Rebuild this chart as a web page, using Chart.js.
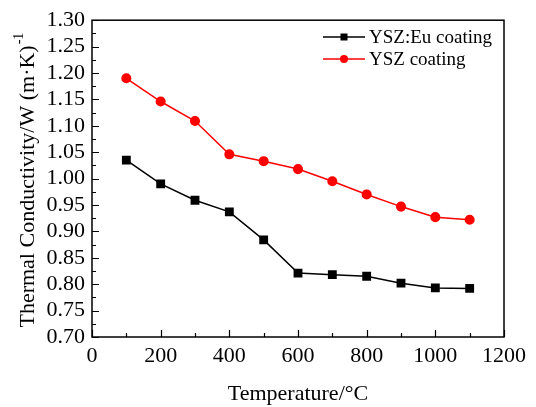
<!DOCTYPE html>
<html>
<head>
<meta charset="utf-8">
<script src="https://cdn.jsdelivr.net/npm/chart.js@4"></script>
<style>
  html, body { margin: 0; padding: 0; background: #fff; }
  #wrap { width: 536px; height: 407px; }
</style>
</head>
<body>
<div id="wrap"><canvas id="chart" width="536" height="407"></canvas></div>
<script>
// temperatures (°C)
var temps = [100, 200, 300, 400, 500, 600, 700, 800, 900, 1000, 1100];
// thermal conductivity, W/(m·K)
var ysz_eu = [1.035, 0.990, 0.959, 0.937, 0.884, 0.821, 0.818, 0.815, 0.802, 0.793, 0.792];
var ysz = [1.190, 1.146, 1.109, 1.046, 1.033, 1.018, 0.995, 0.970, 0.947, 0.927, 0.922];
var seriesNames = ['YSZ:Eu coating', 'YSZ coating'];
var xTitle = 'Temperature/°C';
var yTitle = 'Thermal Conductivity/W (m·K)';
var yTitleSup = '-1';

var FONT = "'Liberation Serif', 'Times New Roman', serif";

function pts(vals) {
  return temps.map(function (t, i) { return { x: t, y: vals[i] }; });
}

// frame, inward ticks, titles and legend
var decor = {
  id: 'decor',
  afterDraw: function (chart) {
    var ctx = chart.ctx;
    var a = chart.chartArea;
    var xs = chart.scales.x, ys = chart.scales.y;
    ctx.save();
    ctx.strokeStyle = '#000';
    ctx.lineWidth = 1.5;
    ctx.strokeRect(a.left, a.top, a.right - a.left, a.bottom - a.top);

    ctx.lineWidth = 1.2;
    ctx.beginPath();
    for (var v = 0; v <= 1200; v += 100) {
      var px = Math.round(xs.getPixelForValue(v)) + 0.5;
      var len = (v % 200 === 0) ? 7 : 4;
      ctx.moveTo(px, a.bottom);
      ctx.lineTo(px, a.bottom - len);
    }
    for (var k = 0; k <= 24; k++) {
      var yv = 0.7 + k * 0.025;
      var py = Math.round(ys.getPixelForValue(yv)) + 0.5;
      var l2 = (k % 2 === 0) ? 7 : 4;
      ctx.moveTo(a.left, py);
      ctx.lineTo(a.left + l2, py);
    }
    ctx.stroke();

    // x title
    ctx.fillStyle = '#000';
    ctx.font = '22px ' + FONT;
    ctx.textAlign = 'center';
    ctx.textBaseline = 'middle';
    ctx.fillText(xTitle, (a.left + a.right) / 2, 394);

    // y title with superscript
    ctx.save();
    ctx.translate(28, (a.top + a.bottom) / 2 + 2);
    ctx.rotate(-Math.PI / 2);
    ctx.font = '22px ' + FONT;
    var wMain = ctx.measureText(yTitle).width;
    ctx.font = '14px ' + FONT;
    var wSup = ctx.measureText(yTitleSup).width;
    var start = -(wMain + wSup) / 2;
    ctx.textAlign = 'left';
    ctx.font = '22px ' + FONT;
    ctx.fillText(yTitle, start, 0);
    ctx.font = '14px ' + FONT;
    ctx.fillText(yTitleSup, start + wMain + 1, -9);
    ctx.restore();

    // legend
    var rows = [
      { name: seriesNames[0], color: '#000', style: 'rect', y: 37 },
      { name: seriesNames[1], color: '#ff0000', style: 'circle', y: 59 }
    ];
    rows.forEach(function (r) {
      ctx.strokeStyle = r.color;
      ctx.fillStyle = r.color;
      ctx.lineWidth = 1.5;
      ctx.beginPath();
      ctx.moveTo(323, r.y);
      ctx.lineTo(365, r.y);
      ctx.stroke();
      ctx.beginPath();
      if (r.style === 'rect') {
        ctx.rect(340.5, r.y - 3.5, 7, 7);
      } else {
        ctx.arc(344, r.y, 4, 0, Math.PI * 2);
      }
      ctx.fill();
      ctx.fillStyle = '#000';
      ctx.font = '19px ' + FONT;
      ctx.textAlign = 'left';
      ctx.textBaseline = 'middle';
      ctx.fillText(r.name, 369, r.y + 1);
    });
    ctx.restore();
  }
};

var ctx = document.getElementById('chart').getContext('2d');
new Chart(ctx, {
  type: 'line',
  data: {
    datasets: [{
      label: seriesNames[0],
      data: pts(ysz_eu),
      borderColor: '#000',
      backgroundColor: '#000',
      borderWidth: 1.5,
      pointStyle: 'rect',
      pointRadius: 5.2,
      pointHoverRadius: 5.2,
      tension: 0
    }, {
      label: seriesNames[1],
      data: pts(ysz),
      borderColor: '#ff0000',
      backgroundColor: '#ff0000',
      borderWidth: 1.5,
      pointStyle: 'circle',
      pointRadius: 4.3,
      pointHoverRadius: 4.3,
      tension: 0
    }]
  },
  options: {
    responsive: false,
    animation: false,
    layout: { padding: { left: 0, right: 32, top: 14, bottom: 0 } },
    plugins: {
      legend: { display: false },
      tooltip: { enabled: false }
    },
    scales: {
      x: {
        type: 'linear',
        min: 0,
        max: 1200,
        grid: { display: false, drawTicks: false },
        border: { display: false },
        ticks: {
          stepSize: 200,
          padding: 6,
          autoSkip: false,
          maxRotation: 0,
          color: '#000',
          font: { family: FONT, size: 22 },
          callback: function (v) { return String(v); }
        },
        afterFit: function (s) { s.height = 70; }
      },
      y: {
        min: 0.7,
        max: 1.3,
        grid: { display: false, drawTicks: false },
        border: { display: false },
        ticks: {
          stepSize: 0.05,
          padding: 7,
          autoSkip: false,
          color: '#000',
          font: { family: FONT, size: 22 },
          callback: function (v) { return Number(v).toFixed(2); }
        },
        afterFit: function (s) { s.width = 92; }
      }
    }
  },
  plugins: [decor]
});
</script>
</body>
</html>
